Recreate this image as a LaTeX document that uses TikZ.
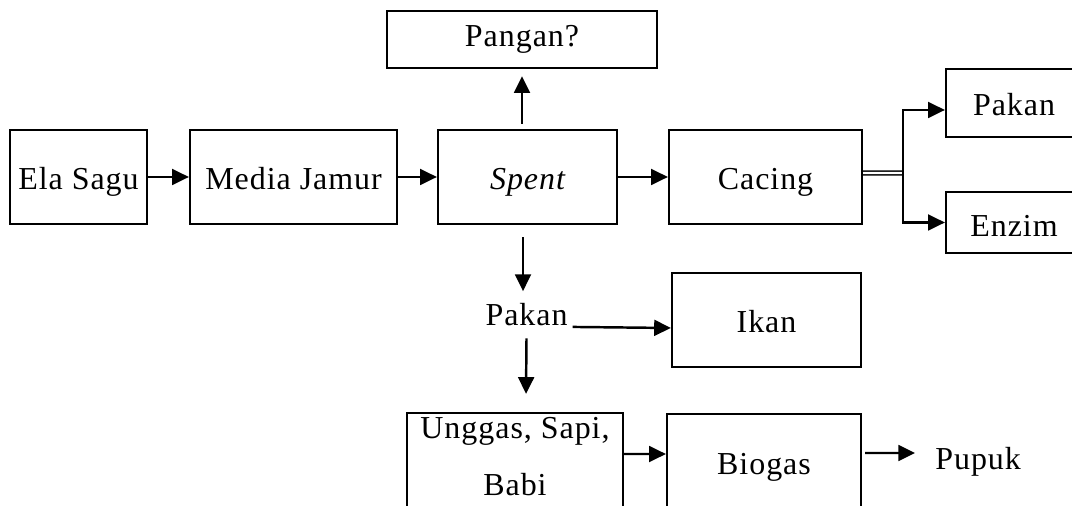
\documentclass[tikz,border=0pt]{standalone}
\usepackage{fontspec}
\setmainfont{Liberation Serif}[LetterSpace=3]
\usetikzlibrary{arrows.meta,calc}
\begin{document}
\begin{tikzpicture}[x=0.02cm,y=-0.02cm,
  every node/.style={font=\fontsize{18.2}{32.4}\selectfont},
  box/.style={draw,line width=1.3pt,inner sep=0pt,text height=14.8pt,text depth=0pt},
  lowbox/.style={box,text height=8.5pt,text depth=0pt},
  arr/.style={line width=1.4pt,-{Triangle[length=9.5pt,width=9pt]}},
  dbl/.style={double,double distance=1.3pt,line width=0.8pt}]
\useasboundingbox (0,0) rectangle (1072,506);
\clip (0,0) rectangle (1072,506);
% boxes
\node[box,minimum width=2.74cm,minimum height=1.88cm] (ela) at (78.5,177) {Ela Sagu};
\node[box,minimum width=4.14cm,minimum height=1.88cm] (media) at (293.5,177) {Media Jamur};
\node[box,minimum width=3.58cm,minimum height=1.88cm] (spent) at (527.5,177) {\itshape Spent};
\node[box,minimum width=3.86cm,minimum height=1.88cm] (cacing) at (765.5,177) {Cacing};
\node[lowbox,minimum width=5.4cm,minimum height=1.14cm] (pangan) at (522,39.5) {Pangan?};
\node[box,minimum width=2.72cm,minimum height=1.36cm] (pakanR) at (1014,103) {Pakan};
\node[box,minimum width=2.72cm,minimum height=1.22cm,text height=16.5pt] (enzim) at (1014,222.5) {Enzim};
\node[box,minimum width=3.78cm,minimum height=1.88cm] (ikan) at (766.5,320) {Ikan};
\node[inner sep=1pt] (pakan) at (526.5,315) {Pakan};
\node[box,minimum width=4.32cm,minimum height=2.14cm] (unggas) at (515,466.5) {};
\node[align=center,inner sep=0pt] (unggastext) at (515,457) {Unggas, Sapi,\\Babi};
\node[lowbox,minimum width=3.88cm,minimum height=2.12cm] (biogas) at (764,467) {Biogas};
\node[inner sep=0pt,anchor=west] (pupuk) at (935,462) {Pupuk};
% connectors
\draw[arr] (ela) -- (media);
\draw[arr] (media) -- (spent);
\draw[arr] (spent) -- (cacing);
\draw[arr,shorten <=3pt,shorten >=4pt] (spent.north -| pangan.south) -- (pangan.south);
\coordinate (dtop) at ($(spent.south -| pangan.south)+(1,12)$);
\coordinate (dbot) at ($(dtop)+(0,54)$);
\draw[arr] (dtop) -- (dbot);
\draw[arr] ($(pakan.south)+(0,10)$) -- ($(unggas.north)+(11,-18)$);
\draw[arr] ($(pakan.base east)+(3,1)$) -- ([yshift=-0.16cm]ikan.west);
\draw[arr] ([yshift=0.25cm]unggas.east) -- ([yshift=0.26cm]biogas.west);
\coordinate (pupukin) at ($(pupuk.west)+(-20,-9)$);
\draw[arr] ($([yshift=0.28cm]biogas.east)+(3,0)$) -- (pupukin);
\coordinate (split) at (903,173);
\draw[dbl] ([yshift=0.08cm]cacing.east) -- (split);
\draw[arr] (split) |- ([yshift=-0.14cm]pakanR.west);
\draw[arr] (split) |- (enzim.west);
\end{tikzpicture}
\end{document}
